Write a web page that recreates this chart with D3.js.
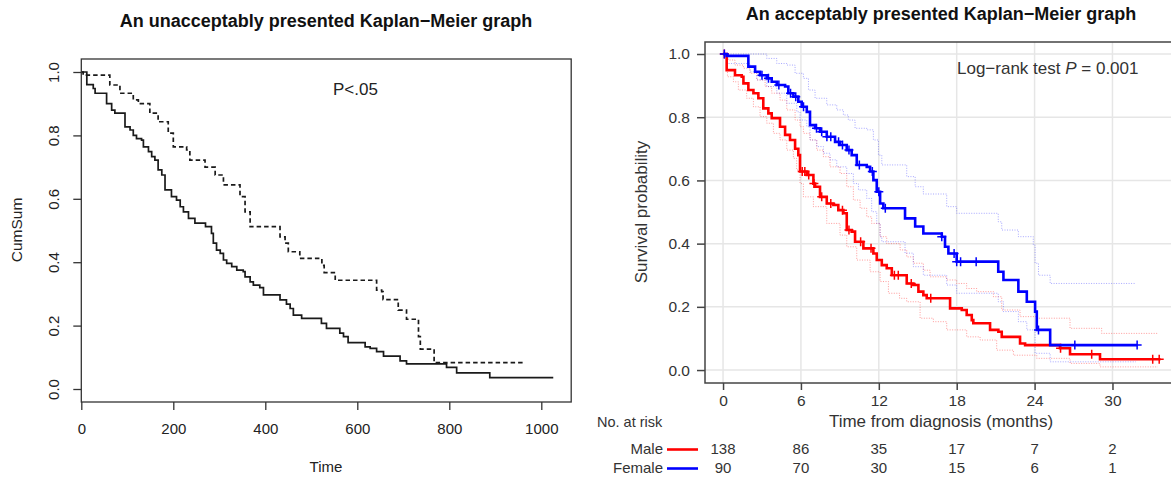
<!DOCTYPE html>
<html lang="en">
<head>
<meta charset="UTF-8">
<title>Kaplan-Meier graphs</title>
<style>
  html, body { margin: 0; padding: 0; background: #fff; }
  svg { display: block; font-family: "Liberation Sans", Arial, Helvetica, sans-serif; }
  .axis path.domain { display: none; }
</style>
</head>
<body>
<script src="https://cdn.jsdelivr.net/npm/d3@7"></script>
<script>
// ---- left panel data (time in days, cumulative survival) ----
const solidTimes = [0,12,26,30,55,66,73,95,106,113,120,131,135,146,153,160,167,175,182,196,207,215,222,233,247,270,283,287,294,302,309,316,327,338,352,356,367,374,388,396,432,446,454,461,479,522,533,562,570,580,617,628,642,657,693,707,794,816,888]
const solidSurv = [1.0,0.96,0.948,0.933,0.90,0.88,0.87,0.827,0.817,0.80,0.79,0.785,0.764,0.749,0.733,0.722,0.691,0.675,0.628,0.607,0.596,0.575,0.559,0.538,0.523,0.512,0.491,0.46,0.438,0.428,0.407,0.396,0.386,0.375,0.37,0.354,0.338,0.328,0.32,0.297,0.281,0.268,0.254,0.233,0.223,0.207,0.191,0.176,0.165,0.146,0.133,0.128,0.118,0.104,0.089,0.079,0.068,0.051,0.036]
const solidEnd = 1026
const dashTimes = [0,4,62,84,113,124,149,167,189,200,229,236,269,291,309,345,356,367,432,443,450,475,523,528,552,642,653,656,689,707,733,737,767]
const dashSurv = [1.0,0.99,0.959,0.933,0.912,0.90,0.87,0.843,0.807,0.764,0.754,0.722,0.70,0.675,0.644,0.607,0.559,0.512,0.48,0.46,0.433,0.412,0.39,0.367,0.343,0.312,0.307,0.282,0.249,0.22,0.165,0.126,0.083]
const dashEnd = 965
const leftXTicks = [0, 200, 400, 600, 800, 1000]
const survTicks = [0, 0.2, 0.4, 0.6, 0.8, 1.0]

// ---- right panel data (time in months) ----
const maleTimes = [0,0.28,0.92,1.44,1.57,1.95,2.34,2.72,3.1,3.49,3.75,4.39,4.78,5.16,5.55,5.8,5.93,6.45,6.96,7.09,7.47,7.99,8.5,8.88,9.27,9.53,9.91,10.17,10.81,11.58,11.84,12.23,12.61,13.0,14.15,14.66,15.05,15.43,15.69,17.49,18.39,18.77,19.16,19.28,20.57,21.21,21.47,22.88,23.27,25.96,26.73,29.04]
const maleSurv = [1.0,0.949,0.933,0.928,0.907,0.886,0.876,0.86,0.828,0.812,0.797,0.77,0.744,0.728,0.70,0.68,0.628,0.617,0.59,0.58,0.548,0.527,0.522,0.506,0.496,0.443,0.438,0.406,0.385,0.369,0.348,0.332,0.322,0.30,0.274,0.269,0.248,0.237,0.227,0.195,0.19,0.174,0.158,0.148,0.127,0.121,0.105,0.084,0.079,0.069,0.05,0.034]
const maleEnd = 33.7
const maleCensor = [0.1,6.1,6.3,6.6,7.0,7.6,8.3,9.2,9.7,10.6,11.4,13.2,13.5,14.5,16.0,26.0,28.4,33.1,33.6]
const maleUpTimes = [0,0.41,0.92,1.57,2.08,2.6,3.24,3.75,4.39,4.91,5.55,5.93,6.19,6.7,7.22,7.73,8.24,9.01,9.53,10.04,10.56,11.07,11.45,12.1,12.61,13.64,14.15,14.66,15.43,15.95,17.23,18.0,18.77,19.54,20.83,21.47,22.88,24.17,26.73,29.17]
const maleUp = [1.0,0.981,0.965,0.955,0.939,0.918,0.897,0.876,0.854,0.823,0.791,0.77,0.749,0.728,0.696,0.675,0.643,0.622,0.58,0.538,0.512,0.485,0.464,0.422,0.40,0.38,0.358,0.338,0.316,0.295,0.285,0.274,0.258,0.248,0.232,0.19,0.169,0.164,0.132,0.116]
const maleLoTimes = [0,0.34,0.8,1.18,1.82,2.34,2.85,3.37,3.88,4.39,4.91,5.42,5.67,5.93,6.19,6.96,7.99,9.01,9.53,10.3,11.33,12.1,12.74,13.6,14.15,15.18,16.2,17.23,18.77,19.8,21.08,22.37,24.17,26.73,29.04]
const maleLo = [1.0,0.928,0.912,0.886,0.86,0.833,0.802,0.781,0.749,0.728,0.696,0.67,0.633,0.59,0.548,0.517,0.464,0.427,0.39,0.348,0.311,0.28,0.243,0.227,0.216,0.164,0.153,0.127,0.105,0.095,0.063,0.047,0.037,0.021,0.01]
const maleBandEnd = 33.5

const femaleTimes = [0,0.28,1.95,2.47,2.85,3.37,3.75,4.14,4.78,5.03,5.42,5.8,6.06,6.45,6.7,7.09,7.47,7.99,8.63,9.01,9.53,9.91,10.3,11.07,11.33,11.58,11.84,12.1,12.35,14.02,14.8,15.43,16.85,17.1,17.36,18.0,21.2,21.6,22.75,23.4,24.04,24.17,25.2]
const femaleSurv = [1.0,0.994,0.96,0.944,0.933,0.923,0.912,0.902,0.897,0.876,0.865,0.849,0.833,0.817,0.775,0.765,0.754,0.738,0.722,0.712,0.696,0.68,0.649,0.643,0.628,0.601,0.564,0.527,0.512,0.48,0.454,0.432,0.422,0.39,0.369,0.343,0.311,0.285,0.248,0.216,0.185,0.127,0.079]
const femaleEnd = 31.9
const femaleCensor = [0.1,3.0,3.5,4.3,5.2,5.6,6.2,7.2,7.6,8.0,8.3,8.9,9.2,9.7,10.5,11.5,12.0,12.5,16.85,17.8,18.0,18.3,19.5,24.3,27.1,31.9]
const femaleUpTimes = [0,3.37,4.14,4.91,5.55,6.19,6.58,7.09,7.99,8.76,9.27,9.65,10.17,11.07,11.58,11.97,12.23,14.15,14.8,15.43,17.23,18.0,21.2,21.47,22.75,23.9,24.04,24.3,25.2]
const femaleUp = [1.0,0.986,0.97,0.965,0.939,0.923,0.886,0.86,0.839,0.823,0.807,0.791,0.765,0.76,0.728,0.68,0.649,0.612,0.58,0.557,0.517,0.496,0.469,0.443,0.422,0.396,0.338,0.30,0.274]
const femaleLoTimes = [0,0.28,2.08,2.6,3.37,4.14,4.91,5.68,5.93,6.45,6.7,7.22,7.73,8.24,8.76,9.53,10.04,10.43,11.07,11.45,11.84,12.1,12.23,14.02,14.66,15.43,17.23,18.0,21.2,21.6,22.75,23.4,24.04,25.2]
const femaleLo = [1.0,0.97,0.944,0.918,0.897,0.876,0.844,0.817,0.791,0.77,0.728,0.707,0.686,0.665,0.643,0.622,0.59,0.57,0.543,0.501,0.464,0.422,0.406,0.37,0.327,0.30,0.269,0.243,0.216,0.185,0.153,0.127,0.053,0.026]
const femaleBandEnd = 31.8

const monthTicks = [0, 6, 12, 18, 24, 30]
const riskGroups = ['Male', 'Female']
const maleAtRisk = [138, 86, 35, 17, 7, 2]
const femaleAtRisk = [90, 70, 30, 15, 6, 1]

const width = 1171
const height = 481
const svg = d3.select('body').append('svg')
  .attr('width', width)
  .attr('height', height)

// step points for a KM curve, holding the last value to the end time
const steps = (times, surv, end) => {
  const pts = times.map((t, i) => [t, surv[i]])
  pts.push([end, surv[surv.length - 1]])
  return pts
}
const survAt = (times, surv, t) => surv[Math.max(0, d3.bisectRight(times, t) - 1)]

// ================= left panel =================
const xL = d3.scaleLinear().domain([0, 1065]).range([81.3, 571.2])
const yL = d3.scaleLinear().domain([-0.041, 1.041]).range([402, 59])
const lineL = d3.line().x(d => xL(d[0])).y(d => yL(d[1])).curve(d3.curveStepAfter)
const left = svg.append('g')

left.append('text')
  .attr('x', 326).attr('y', 27)
  .attr('text-anchor', 'middle')
  .attr('font-weight', 'bold').attr('font-size', 18).attr('fill', '#111')
  .text('An unacceptably presented Kaplan\u2212Meier graph')

left.append('path')
  .attr('d', lineL(steps(solidTimes, solidSurv, solidEnd)))
  .attr('fill', 'none').attr('stroke', '#1a1a1a').attr('stroke-width', 1.7)

left.append('path')
  .attr('d', lineL(steps(dashTimes, dashSurv, dashEnd)))
  .attr('fill', 'none').attr('stroke', '#1a1a1a').attr('stroke-width', 1.7)
  .attr('stroke-dasharray', '4.5,3')

left.append('rect')
  .attr('x', xL.range()[0]).attr('y', 59)
  .attr('width', xL.range()[1] - xL.range()[0]).attr('height', 402 - 59)
  .attr('fill', 'none').attr('stroke', '#333').attr('stroke-width', 1.3)

const lxAxis = left.append('g').attr('class', 'axis')
  .attr('transform', 'translate(0,402)')
  .call(d3.axisBottom(xL).tickValues(leftXTicks).tickFormat(d3.format('d'))
    .tickSize(8).tickSizeOuter(0).tickPadding(13))
lxAxis.selectAll('line').attr('stroke', '#333').attr('stroke-width', 1.3)
lxAxis.selectAll('text').attr('font-size', 15).attr('fill', '#222').attr('font-family', null)

const lyAxis = left.append('g').attr('class', 'axis')
  .attr('transform', 'translate(81.3,0)')
  .call(d3.axisLeft(yL).tickValues(survTicks).tickFormat(d3.format('.1f')).tickSize(8).tickSizeOuter(0))
lyAxis.selectAll('line').attr('stroke', '#333').attr('stroke-width', 1.3)
lyAxis.selectAll('text')
  .attr('font-size', 15).attr('fill', '#222').attr('font-family', null)
  .attr('transform', 'rotate(-90)')
  .attr('x', 0).attr('y', -22).attr('dy', 0)
  .attr('text-anchor', 'middle')

left.append('text')
  .attr('x', 326).attr('y', 472)
  .attr('text-anchor', 'middle').attr('font-size', 15).attr('fill', '#222')
  .text('Time')

left.append('text')
  .attr('transform', 'translate(22,230) rotate(-90)')
  .attr('text-anchor', 'middle').attr('font-size', 15.5).attr('fill', '#222')
  .text('CumSum')

left.append('text')
  .attr('x', 333).attr('y', 95)
  .attr('font-size', 17).attr('fill', '#222')
  .text('P<.05')

// ================= right panel =================
const xR = d3.scaleLinear().domain([-1.39, 34.84]).range([705, 1175.3])
const yR = d3.scaleLinear().domain([-0.041, 1.038]).range([383, 42])
const lineR = d3.line().x(d => xR(d[0])).y(d => yR(d[1])).curve(d3.curveStepAfter)
const right = svg.append('g')

right.append('text')
  .attr('x', 941).attr('y', 20)
  .attr('text-anchor', 'middle')
  .attr('font-weight', 'bold').attr('font-size', 18).attr('fill', '#111')
  .text('An acceptably presented Kaplan\u2212Meier graph')

// grid
right.append('g').selectAll('line.v').data(monthTicks).join('line')
  .attr('x1', d => xR(d)).attr('x2', d => xR(d))
  .attr('y1', 42).attr('y2', 383)
  .attr('stroke', '#e6e6e6').attr('stroke-width', 1.5)
right.append('g').selectAll('line.h').data(survTicks).join('line')
  .attr('x1', 705).attr('x2', 1175)
  .attr('y1', d => yR(d)).attr('y2', d => yR(d))
  .attr('stroke', '#e6e6e6').attr('stroke-width', 1.5)

// confidence bands
const bands = [
  [maleUpTimes, maleUp, maleBandEnd, 'rgba(255,0,0,0.4)'],
  [maleLoTimes, maleLo, maleBandEnd, 'rgba(255,0,0,0.4)'],
  [femaleUpTimes, femaleUp, femaleBandEnd, 'rgba(0,0,255,0.35)'],
  [femaleLoTimes, femaleLo, femaleBandEnd, 'rgba(0,0,255,0.35)']
]
right.append('g').selectAll('path').data(bands).join('path')
  .attr('d', d => lineR(steps(d[0], d[1], d[2])))
  .attr('fill', 'none').attr('stroke', d => d[3])
  .attr('stroke-width', 1).attr('stroke-dasharray', '1,1.5')

// survival curves + censor marks
const groups = [
  { times: maleTimes, surv: maleSurv, end: maleEnd, censor: maleCensor, color: '#ff0000' },
  { times: femaleTimes, surv: femaleSurv, end: femaleEnd, censor: femaleCensor, color: '#0000ff' }
]
groups.forEach(g => {
  right.append('path')
    .attr('d', lineR(steps(g.times, g.surv, g.end)))
    .attr('fill', 'none').attr('stroke', g.color).attr('stroke-width', 2.6)
  right.append('g').selectAll('path').data(g.censor).join('path')
    .attr('transform', t => `translate(${xR(t)},${yR(survAt(g.times, g.surv, t))})`)
    .attr('d', 'M-4.5,0H4.5M0,-4.5V4.5')
    .attr('stroke', g.color).attr('stroke-width', 1.5)
})

// frame
right.append('rect')
  .attr('x', 705).attr('y', 42).attr('width', 470).attr('height', 341)
  .attr('fill', 'none').attr('stroke', '#444').attr('stroke-width', 1.5)

const rxAxis = right.append('g').attr('class', 'axis')
  .attr('transform', 'translate(0,383)')
  .call(d3.axisBottom(xR).tickValues(monthTicks).tickSize(7).tickSizeOuter(0).tickPadding(5))
rxAxis.selectAll('line').attr('stroke', '#444').attr('stroke-width', 1.5)
rxAxis.selectAll('text').attr('font-size', 15.5).attr('fill', '#333').attr('font-family', null)

const ryAxis = right.append('g').attr('class', 'axis')
  .attr('transform', 'translate(705,0)')
  .call(d3.axisLeft(yR).tickValues(survTicks).tickFormat(d3.format('.1f')).tickSize(8).tickSizeOuter(0).tickPadding(7))
ryAxis.selectAll('line').attr('stroke', '#444').attr('stroke-width', 1.5)
ryAxis.selectAll('text').attr('font-size', 15.5).attr('fill', '#333').attr('font-family', null)

right.append('text')
  .attr('x', 941).attr('y', 427)
  .attr('text-anchor', 'middle').attr('font-size', 17).attr('fill', '#333')
  .text('Time from diagnosis (months)')

right.append('text')
  .attr('transform', 'translate(647,212) rotate(-90)')
  .attr('text-anchor', 'middle').attr('font-size', 17).attr('fill', '#333')
  .text('Survival probability')

const lr = right.append('text')
  .attr('x', 957).attr('y', 74)
  .attr('font-size', 17).attr('fill', '#333')
lr.append('tspan').text('Log\u2212rank test ')
lr.append('tspan').attr('font-style', 'italic').text('P')
lr.append('tspan').text(' = 0.001')

// number at risk table
right.append('text')
  .attr('x', 597).attr('y', 427)
  .attr('font-size', 14.5).attr('fill', '#333')
  .text('No. at risk')

const riskRows = [
  { name: riskGroups[0], values: maleAtRisk, color: '#ff0000', y: 454 },
  { name: riskGroups[1], values: femaleAtRisk, color: '#0000ff', y: 473 }
]
riskRows.forEach(r => {
  right.append('text')
    .attr('x', 663).attr('y', r.y)
    .attr('text-anchor', 'end').attr('font-size', 15).attr('fill', '#333')
    .text(r.name)
  right.append('line')
    .attr('x1', 667).attr('x2', 698)
    .attr('y1', r.y - 4.5).attr('y2', r.y - 4.5)
    .attr('stroke', r.color).attr('stroke-width', 2.6)
  right.append('g').selectAll('text').data(r.values).join('text')
    .attr('x', (d, i) => xR(monthTicks[i])).attr('y', r.y)
    .attr('text-anchor', 'middle').attr('font-size', 15).attr('fill', '#333')
    .text(d => d)
})
</script>
</body>
</html>
